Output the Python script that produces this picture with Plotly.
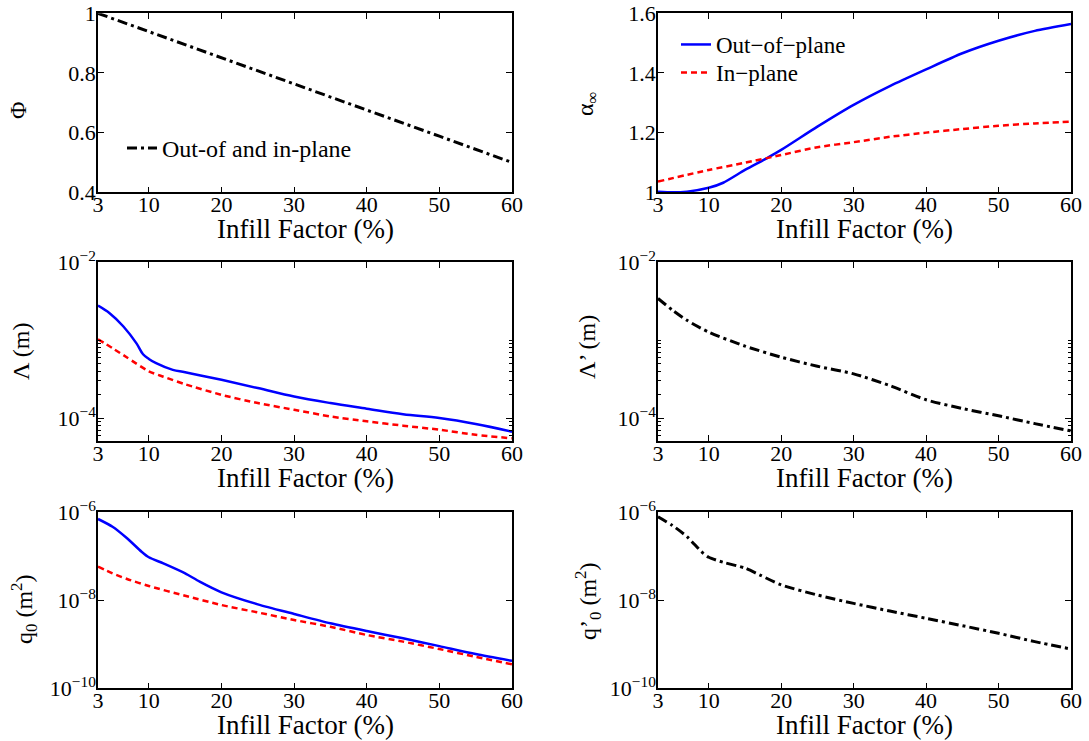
import plotly.graph_objects as go
from plotly.subplots import make_subplots

# ---------------- data ----------------
infill_phi = [3, 10, 20, 30, 40, 50, 60]
phi = [1.0, 0.939, 0.851, 0.763, 0.675, 0.588, 0.5]

infill_alpha_out = [3, 5, 7, 10, 12, 15, 18, 20, 25, 30, 35, 40, 45, 50, 55, 60]
alpha_out = [1.002, 1.0, 1.002, 1.015, 1.032, 1.075, 1.114, 1.142, 1.22, 1.293,
             1.356, 1.412, 1.466, 1.508, 1.541, 1.564]
infill_alpha_in = [3, 10, 15, 20, 25, 30, 35, 40, 45, 50, 55, 60]
alpha_in = [1.036, 1.075, 1.099, 1.125, 1.151, 1.168, 1.186, 1.2, 1.212, 1.223,
            1.231, 1.237]

infill_lam_out = [3, 4.6, 6.5, 8.3, 9.2, 10, 11, 13.3, 15, 20, 25, 30, 35, 40, 45, 50, 55, 60]
lam_out = [2.78e-3, 2.22e-3, 1.50e-3, 9.1e-4, 6.6e-4, 5.75e-4, 5.07e-4, 4.16e-4, 3.89e-4,
           3.1e-4, 2.43e-4, 1.89e-4, 1.56e-4, 1.32e-4, 1.12e-4, 1.0e-4, 8.4e-5, 6.7e-5]
infill_lam_in = [3, 5, 7, 10, 12, 15, 20, 25, 30, 35, 40, 45, 50, 55, 60]
lam_in = [1.03e-3, 7.9e-4, 6.0e-4, 3.98e-4, 3.4e-4, 2.72e-4, 1.99e-4, 1.56e-4,
          1.28e-4, 1.05e-4, 9.1e-5, 8.0e-5, 7.1e-5, 6.1e-5, 5.5e-5]

infill_lamp = [3, 5, 7, 10, 15, 20, 25, 30, 35, 40, 45, 50, 55, 60]
lamp = [3.43e-3, 2.43e-3, 1.80e-3, 1.27e-3, 8.4e-4, 6.05e-4, 4.63e-4, 3.7e-4,
        2.61e-4, 1.72e-4, 1.33e-4, 1.07e-4, 8.5e-5, 6.85e-5]

infill_q_out = [3, 5, 7, 9, 10, 12, 15, 17, 20, 25, 30, 35, 40, 45, 50, 55, 60]
q_out = [7.05e-7, 4.7e-7, 2.57e-7, 1.27e-7, 9.5e-8, 6.9e-8, 4.1e-8, 2.65e-8,
         1.52e-8, 8.1e-9, 4.9e-9, 3.0e-9, 2.0e-9, 1.37e-9, 9.1e-10, 6.0e-10, 4.2e-10]
infill_q_in = [3, 5, 7, 10, 15, 20, 25, 30, 35, 40, 45, 50, 55, 60]
q_in = [5.8e-8, 4.1e-8, 3.05e-8, 2.11e-8, 1.27e-8, 7.8e-9, 5.3e-9, 3.57e-9,
        2.5e-9, 1.63e-9, 1.15e-9, 7.8e-10, 5.2e-10, 3.5e-10]

infill_qp = [3, 5, 7, 9, 10, 12, 15, 17, 20, 25, 30, 35, 40, 45, 50, 55, 60]
qp = [7.9e-7, 5.0e-7, 2.8e-7, 1.27e-7, 9.5e-8, 7.3e-8, 5.4e-8, 3.8e-8, 2.24e-8,
      1.32e-8, 8.5e-9, 5.7e-9, 3.9e-9, 2.65e-9, 1.78e-9, 1.15e-9, 7.8e-10]

x_ticks = [3, 10, 20, 30, 40, 50, 60]
x_title = "Infill Factor (%)"

# ---------------- styling ----------------
W, H = 1089, 741
FONT = "Liberation Serif, Times New Roman, serif"
BLUE = "#0000ff"
RED = "#ff0000"
DASHDOT = "10px,4px,3px,4px"
DASH = "6px,4px"
SM = 0.7


def fx(px):
    return px / W


def fy(py):
    return 1 - py / H


fig = make_subplots(rows=3, cols=2)

fig.add_trace(go.Scatter(x=infill_phi, y=phi, mode="lines", name="Out-of and in-plane",
                         line=dict(color="black", width=3, dash=DASHDOT),
                         legend="legend"), row=1, col=1)
fig.add_trace(go.Scatter(x=infill_alpha_out, y=alpha_out, mode="lines", name="Out\u2212of\u2212plane",
                         line=dict(color=BLUE, width=2.5, shape="spline", smoothing=SM),
                         legend="legend2"), row=1, col=2)
fig.add_trace(go.Scatter(x=infill_alpha_in, y=alpha_in, mode="lines", name="In\u2212plane",
                         line=dict(color=RED, width=2.5, dash=DASH, shape="spline", smoothing=SM),
                         legend="legend3"), row=1, col=2)
fig.add_trace(go.Scatter(x=infill_lam_out, y=lam_out, mode="lines", showlegend=False,
                         line=dict(color=BLUE, width=2.5, shape="spline", smoothing=1.0)), row=2, col=1)
fig.add_trace(go.Scatter(x=infill_lam_in, y=lam_in, mode="lines", showlegend=False,
                         line=dict(color=RED, width=2.5, dash=DASH, shape="spline", smoothing=SM)), row=2, col=1)
fig.add_trace(go.Scatter(x=infill_lamp, y=lamp, mode="lines", showlegend=False,
                         line=dict(color="black", width=3, dash=DASHDOT, shape="spline", smoothing=SM)), row=2, col=2)
fig.add_trace(go.Scatter(x=infill_q_out, y=q_out, mode="lines", showlegend=False,
                         line=dict(color=BLUE, width=2.5, shape="spline", smoothing=SM)), row=3, col=1)
fig.add_trace(go.Scatter(x=infill_q_in, y=q_in, mode="lines", showlegend=False,
                         line=dict(color=RED, width=2.5, dash=DASH, shape="spline", smoothing=SM)), row=3, col=1)
fig.add_trace(go.Scatter(x=infill_qp, y=qp, mode="lines", showlegend=False,
                         line=dict(color="black", width=3, dash=DASHDOT, shape="spline", smoothing=SM)), row=3, col=2)

col_px = [(98, 512), (658, 1071)]
row_px = [(13.3, 192.3), (262.3, 440.7), (512.3, 688.3)]

axis_common = dict(showline=True, linecolor="black", linewidth=1.5, mirror="ticks",
                   ticks="inside", ticklen=6, tickwidth=1, tickcolor="black",
                   showgrid=False, zeroline=False, automargin=False,
                   ticklabeloverflow="allow",
                   tickfont=dict(family=FONT, size=22, color="black"))

minor_lam = [1e-3] + [k * 1e-4 for k in range(2, 10)] + [k * 1e-5 for k in range(5, 10)]

for r in range(3):
    for c in range(2):
        idx = r * 2 + c + 1
        xa = "xaxis" if idx == 1 else f"xaxis{idx}"
        ya = "yaxis" if idx == 1 else f"yaxis{idx}"
        fig.layout[xa].update(domain=[fx(col_px[c][0]), fx(col_px[c][1])], range=[3, 60],
                              tickmode="array", tickvals=x_ticks, ticklabelstandoff=-8,
                              **axis_common)
        ydict = dict(domain=[fy(row_px[r][1]), fy(row_px[r][0])], ticklabelstandoff=-4,
                     **axis_common)
        if r == 0 and c == 0:
            ydict.update(range=[0.4, 1.0], tickmode="array", tickvals=[0.4, 0.6, 0.8, 1.0],
                         ticktext=["0.4", "0.6", "0.8", "1"])
        elif r == 0 and c == 1:
            ydict.update(range=[1.0, 1.6], tickmode="array", tickvals=[1.0, 1.2, 1.4, 1.6],
                         ticktext=["1", "1.2", "1.4", "1.6"])
        elif r == 1:
            ydict.update(type="log", range=[-4.29, -2], tickmode="array",
                         tickvals=[1e-4, 1e-2],
                         ticktext=["10<sup>\u22124</sup>", "10<sup>\u22122</sup>"],
                         minor=dict(ticks="inside", ticklen=3, tickcolor="black",
                                    tickmode="array", tickvals=minor_lam))
        else:
            ydict.update(type="log", range=[-10, -6], tickmode="array",
                         tickvals=[1e-10, 1e-8, 1e-6],
                         ticktext=["10<sup>\u221210</sup>", "10<sup>\u22128</sup>", "10<sup>\u22126</sup>"])
        fig.layout[ya].update(**ydict)

# x-axis titles
for r in range(3):
    for c in range(2):
        cx = (col_px[c][0] + col_px[c][1]) / 2
        fig.add_annotation(text=x_title, x=fx(cx), y=fy(row_px[r][1] + 37),
                           xref="paper", yref="paper", showarrow=False,
                           xanchor="center", yanchor="middle",
                           font=dict(family=FONT, size=27, color="black"))

# y-axis titles
ytitles = [
    ("\u03a6", 18, 110),
    ("\u03b1<sub>\u221e</sub>", 587, 104),
    ("\u039b (m)", 21, 352),
    ("\u039b\u2019 (m)", 587, 347),
    ("q<sub>0</sub> (m<sup>2</sup>)", 24, 610),
    ("q\u2019<sub>0</sub> (m<sup>2</sup>)", 588, 602),
]
for txt, px, py in ytitles:
    fig.add_annotation(text=txt, x=fx(px), y=fy(py), xref="paper", yref="paper",
                       showarrow=False, textangle=-90, xanchor="center", yanchor="middle",
                       font=dict(family=FONT, size=24, color="black"))

leg_common = dict(xanchor="left", yanchor="top", bgcolor="rgba(0,0,0,0)",
                  itemwidth=30, tracegroupgap=0)
fig.update_layout(
    template="none",
    width=W, height=H,
    margin=dict(l=0, r=0, t=0, b=0, autoexpand=False),
    paper_bgcolor="white", plot_bgcolor="white",
    font=dict(family=FONT, color="black"),
    legend=dict(x=fx(122), y=fy(126), font=dict(family=FONT, size=24, color="black"), **leg_common),
    legend2=dict(x=fx(676), y=fy(23), font=dict(family=FONT, size=23, color="black"), **leg_common),
    legend3=dict(x=fx(676), y=fy(51), font=dict(family=FONT, size=23, color="black"), **leg_common),
)

fig.write_html("out.html", config={"displayModeBar": False},
               post_script="document.body.style.margin='0px';")
